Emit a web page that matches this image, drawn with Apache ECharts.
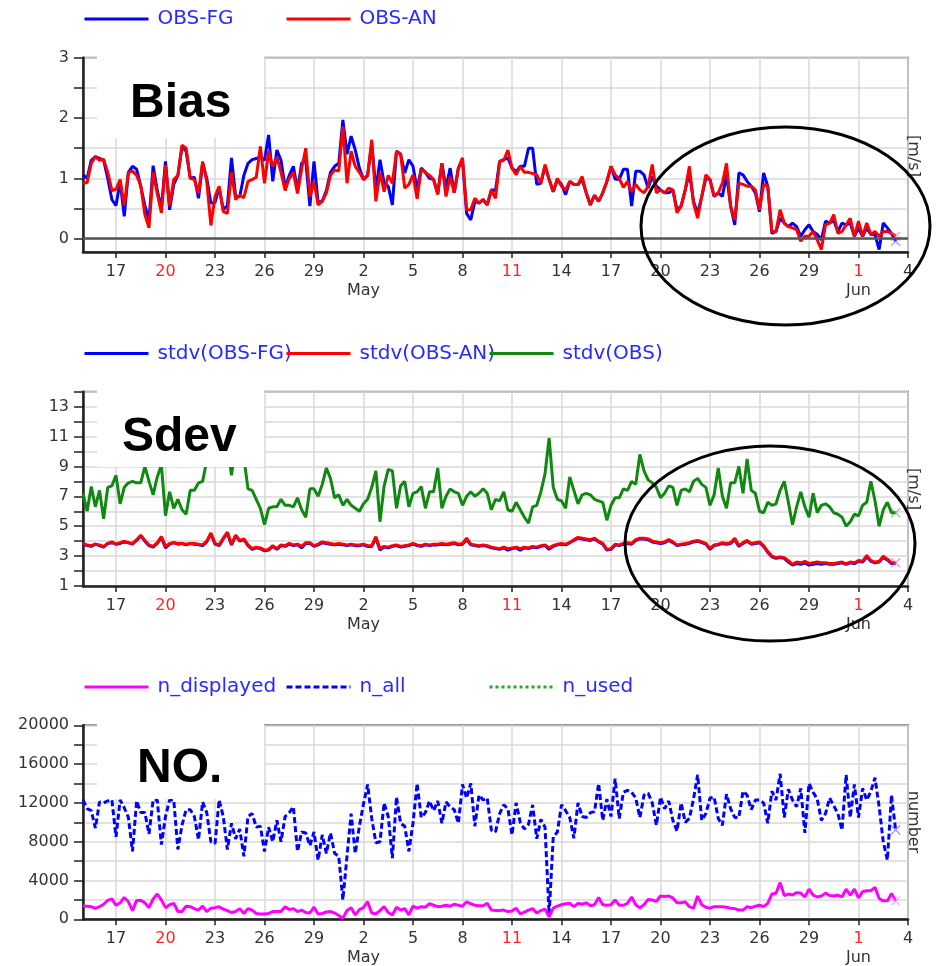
<!DOCTYPE html>
<html>
<head>
<meta charset="utf-8">
<script src="https://cdn.jsdelivr.net/npm/echarts@6/dist/echarts.min.js"></script>
<style>
  html, body { margin: 0; padding: 0; background: #fff; }
  #chart { width: 938px; height: 966px; }
</style>
</head>
<body>
<div id="chart"></div>
<script>
// 6-hourly wind monitoring statistics, starting 15 Apr 2014 00 UTC
const START_UTC = Date.UTC(2014, 3, 15);
const STEP_DAYS = 0.25;
const MONTHS = ['Jan','Feb','Mar','Apr','May','Jun','Jul','Aug','Sep','Oct','Nov','Dec'];
// tick positions in days after the start (17 Apr, 20 Apr, ... 4 Jun)
const DAY_TICKS = [2, 5, 8, 11, 14, 17, 20, 23, 26, 29, 32, 35, 38, 41, 44, 47, 50];

const BIAS_TICKS = [0, 0.5, 1, 1.5, 2, 2.5, 3];
const BIAS_LABELS = [0, 1, 2, 3];

// mean departures [m/s]
const biasFG = [
  1.06, 1.00, 1.30, 1.36, 1.33, 1.30, 1.00, 0.65, 0.55, 0.95,
  0.37, 1.10, 1.20, 1.15, 0.87, 0.55, 0.31, 1.21, 0.80, 0.50,
  1.28, 0.48, 0.90, 1.05, 1.52, 1.45, 1.00, 1.02, 0.67, 1.25,
  1.00, 0.59, 0.60, 0.85, 0.48, 0.55, 1.34, 0.70, 0.70, 1.05,
  1.25, 1.31, 1.33, 1.35, 1.30, 1.72, 0.95, 1.47, 1.30, 0.85,
  1.05, 1.20, 0.80, 1.25, 1.30, 0.54, 1.28, 0.60, 0.62, 0.80,
  1.10, 1.20, 1.25, 1.97, 1.40, 1.70, 1.47, 1.17, 0.98, 1.05,
  1.58, 0.80, 1.31, 0.92, 0.87, 0.56, 1.45, 1.40, 1.09, 1.31,
  1.20, 0.81, 1.17, 1.10, 1.00, 0.98, 0.75, 1.25, 0.84, 1.17,
  0.76, 1.17, 1.30, 0.42, 0.31, 0.62, 0.59, 0.65, 0.56, 0.81,
  0.80, 1.28, 1.31, 1.34, 1.17, 1.11, 1.20, 1.20, 1.50, 1.50,
  0.90, 0.92, 1.20, 0.98, 0.78, 0.98, 0.90, 0.73, 0.95, 0.90,
  0.90, 0.98, 0.76, 0.56, 0.72, 0.62, 0.76, 0.95, 1.20, 0.99,
  0.98, 1.15, 1.15, 0.54, 1.12, 1.12, 1.06, 0.84, 1.03, 0.87,
  0.81, 0.76, 0.76, 0.81, 0.48, 0.54, 0.81, 1.10, 0.62, 0.42,
  0.70, 1.00, 0.98, 0.70, 0.76, 0.70, 1.06, 0.54, 0.23, 1.09,
  1.06, 0.95, 0.87, 0.76, 0.45, 1.09, 0.87, 0.09, 0.12, 0.34,
  0.26, 0.20, 0.26, 0.20, 0.04, 0.15, 0.23, 0.12, 0.07, -0.02,
  0.29, 0.26, 0.30, 0.12, 0.26, 0.23, 0.26, 0.04, 0.18, 0.04,
  0.18, 0.07, 0.07, -0.18, 0.26, 0.18, 0.09, -0.04
];
const biasAN = [
  0.92, 0.93, 1.25, 1.36, 1.30, 1.32, 1.10, 0.80, 0.82, 0.98,
  0.55, 1.10, 1.12, 1.05, 0.88, 0.40, 0.18, 1.10, 0.75, 0.43,
  1.22, 0.55, 0.98, 1.05, 1.55, 1.50, 1.00, 0.98, 0.75, 1.28,
  0.95, 0.22, 0.70, 0.87, 0.45, 0.42, 1.10, 0.65, 0.72, 0.68,
  0.95, 0.98, 1.02, 1.53, 0.92, 1.45, 1.20, 1.35, 1.10, 0.80,
  1.00, 1.10, 0.75, 1.15, 1.50, 0.70, 0.95, 0.56, 0.62, 0.76,
  1.05, 1.14, 1.12, 1.86, 0.92, 1.45, 1.20, 1.10, 0.98, 1.05,
  1.64, 0.62, 1.10, 0.78, 1.05, 0.92, 1.45, 1.40, 0.84, 0.90,
  1.06, 0.66, 1.15, 1.10, 1.05, 0.98, 0.73, 1.25, 0.70, 1.03,
  0.76, 1.17, 1.34, 0.48, 0.48, 0.67, 0.59, 0.65, 0.56, 0.81,
  0.67, 1.28, 1.30, 1.47, 1.17, 1.06, 1.20, 1.10, 1.10, 1.08,
  1.06, 0.92, 1.23, 0.98, 0.78, 1.00, 0.87, 0.81, 0.95, 0.90,
  0.90, 1.03, 0.76, 0.56, 0.72, 0.62, 0.76, 0.95, 1.20, 1.06,
  1.00, 0.85, 0.95, 0.78, 0.90, 0.81, 0.76, 0.87, 1.23, 0.76,
  0.81, 0.76, 0.84, 0.81, 0.43, 0.54, 0.81, 1.20, 0.59, 0.34,
  0.70, 1.06, 0.98, 0.70, 0.76, 0.92, 1.25, 0.54, 0.31, 0.92,
  0.90, 0.87, 0.87, 0.81, 0.48, 0.90, 0.87, 0.12, 0.12, 0.48,
  0.26, 0.20, 0.18, 0.15, -0.04, 0.04, 0.04, 0.12, -0.02, -0.18,
  0.23, 0.26, 0.40, 0.09, 0.12, 0.23, 0.34, 0.04, 0.29, 0.04,
  0.26, 0.07, 0.12, 0.04, 0.12, 0.12, 0.09, 0.04
];

// standard deviations [m/s]
const stdvFG = [
  3.80, 3.70, 3.65, 3.80, 3.70, 3.60, 3.85, 3.90, 3.80, 3.85,
  3.95, 3.90, 3.80, 4.05, 4.35, 4.00, 3.70, 3.60, 3.85, 4.25,
  3.55, 3.80, 3.90, 3.80, 3.85, 3.75, 3.85, 3.80, 3.75, 3.70,
  3.95, 4.50, 3.80, 3.70, 4.15, 4.55, 3.75, 4.35, 4.00, 4.10,
  3.70, 3.45, 3.55, 3.50, 3.35, 3.40, 3.65, 3.45, 3.70, 3.65,
  3.80, 3.70, 3.75, 3.55, 3.85, 3.85, 3.65, 3.75, 3.90, 3.85,
  3.80, 3.75, 3.80, 3.75, 3.70, 3.75, 3.70, 3.70, 3.75, 3.65,
  3.65, 4.20, 3.40, 3.60, 3.55, 3.65, 3.70, 3.60, 3.65, 3.70,
  3.80, 3.70, 3.65, 3.75, 3.70, 3.75, 3.75, 3.80, 3.75, 3.80,
  3.85, 3.75, 3.80, 4.10, 3.75, 3.70, 3.65, 3.70, 3.65, 3.55,
  3.50, 3.45, 3.55, 3.40, 3.50, 3.55, 3.40, 3.55, 3.50, 3.60,
  3.55, 3.65, 3.70, 3.45, 3.65, 3.75, 3.80, 3.75, 3.90, 4.05,
  4.20, 4.15, 4.10, 4.05, 4.15, 3.95, 3.80, 3.40, 3.45, 3.75,
  3.70, 3.80, 3.85, 3.80, 4.05, 4.15, 4.15, 4.10, 3.95, 3.90,
  3.85, 3.90, 4.05, 3.90, 3.70, 3.75, 3.80, 3.85, 3.95, 4.00,
  3.90, 3.80, 3.45, 3.70, 3.75, 3.85, 3.80, 3.85, 4.10, 3.65,
  3.85, 4.00, 3.80, 3.85, 3.90, 3.65, 3.25, 2.95, 2.85, 2.90,
  2.85, 2.60, 2.40, 2.50, 2.45, 2.55, 2.40, 2.45, 2.50, 2.45,
  2.50, 2.45, 2.45, 2.50, 2.55, 2.45, 2.55, 2.50, 2.65, 2.60,
  2.95, 2.65, 2.55, 2.60, 2.90, 2.75, 2.50, 2.50
];
const stdvAN = [
  3.85, 3.75, 3.70, 3.80, 3.75, 3.65, 3.85, 3.95, 3.80, 3.90,
  4.00, 3.90, 3.85, 4.10, 4.40, 4.05, 3.75, 3.65, 3.90, 4.30,
  3.65, 3.85, 3.90, 3.85, 3.85, 3.80, 3.85, 3.85, 3.80, 3.75,
  4.00, 4.55, 3.85, 3.75, 4.20, 4.60, 3.80, 4.40, 4.05, 4.15,
  3.75, 3.50, 3.60, 3.55, 3.40, 3.45, 3.70, 3.50, 3.75, 3.70,
  3.85, 3.75, 3.80, 3.65, 3.90, 3.90, 3.70, 3.80, 3.95, 3.90,
  3.85, 3.80, 3.85, 3.80, 3.75, 3.80, 3.75, 3.75, 3.80, 3.70,
  3.70, 4.30, 3.50, 3.65, 3.60, 3.70, 3.75, 3.65, 3.70, 3.75,
  3.85, 3.75, 3.70, 3.80, 3.75, 3.80, 3.80, 3.85, 3.80, 3.85,
  3.90, 3.80, 3.85, 4.20, 3.80, 3.75, 3.70, 3.75, 3.70, 3.60,
  3.55, 3.50, 3.60, 3.50, 3.55, 3.60, 3.50, 3.60, 3.55, 3.65,
  3.60, 3.70, 3.75, 3.55, 3.70, 3.80, 3.85, 3.80, 3.90, 4.10,
  4.25, 4.20, 4.15, 4.10, 4.20, 4.00, 3.85, 3.45, 3.50, 3.80,
  3.75, 3.85, 3.90, 3.85, 4.10, 4.20, 4.20, 4.15, 4.00, 3.95,
  3.90, 3.95, 4.10, 3.95, 3.75, 3.80, 3.85, 3.90, 4.00, 4.05,
  3.95, 3.85, 3.50, 3.75, 3.80, 3.90, 3.85, 3.90, 4.20, 3.70,
  3.90, 4.05, 3.85, 3.90, 3.95, 3.70, 3.30, 3.00, 2.90, 2.95,
  2.90, 2.70, 2.45, 2.60, 2.55, 2.65, 2.50, 2.55, 2.60, 2.55,
  2.55, 2.50, 2.50, 2.55, 2.60, 2.50, 2.60, 2.55, 2.70, 2.65,
  3.05, 2.70, 2.60, 2.65, 3.00, 2.80, 2.55, 2.55
];
const stdvOBS = [
  7.2, 6.0, 7.65, 6.3, 7.4, 5.5, 7.6, 7.7, 8.4, 6.5,
  7.6, 7.9, 8.0, 7.9, 7.9, 9.0, 8.0, 7.1, 8.3, 9.1,
  5.7, 7.3, 6.2, 6.8, 6.1, 5.8, 7.4, 7.4, 7.9, 8.0,
  9.4, 10.6, 11.0, 10.2, 11.4, 10.4, 8.4, 10.5, 11.2, 9.6,
  7.5, 7.4, 6.8, 6.2, 5.1, 6.2, 6.3, 6.3, 6.8, 6.4,
  6.4, 6.3, 6.9, 6.1, 5.6, 7.5, 7.5, 7.0, 7.8, 8.9,
  8.2, 6.9, 7.1, 6.4, 6.8, 6.4, 6.2, 6.0, 6.5, 6.8,
  7.6, 8.7, 5.3, 7.7, 8.8, 8.7, 6.2, 7.7, 8.0, 6.3,
  7.2, 7.3, 7.65, 6.2, 7.3, 7.3, 8.9, 6.2, 7.0, 7.5,
  7.3, 7.2, 6.4, 7.0, 7.3, 7.0, 7.2, 7.5, 7.2, 6.1,
  6.8, 6.7, 7.3, 6.1, 6.0, 6.6, 6.1, 5.6, 5.2, 6.3,
  6.4, 7.3, 8.5, 10.9, 7.6, 6.8, 6.7, 6.2, 8.3, 7.4,
  6.5, 7.1, 7.2, 7.1, 6.8, 6.7, 6.6, 5.4, 6.4, 6.9,
  6.9, 7.5, 7.4, 8.0, 7.8, 9.8, 8.7, 8.1, 7.9, 7.6,
  6.9, 7.2, 7.7, 7.6, 6.4, 7.4, 7.5, 7.3, 8.0, 8.2,
  7.8, 7.6, 6.4, 7.1, 8.9, 7.0, 6.2, 7.9, 7.9, 9.0,
  7.2, 9.5, 7.4, 7.2, 6.0, 5.9, 6.6, 6.4, 6.5, 7.4,
  8.0, 6.6, 5.1, 6.3, 7.3, 6.3, 5.6, 7.2, 5.9, 6.4,
  6.5, 6.3, 5.9, 5.8, 5.6, 5.0, 5.3, 5.8, 5.7, 6.4,
  6.6, 8.0, 6.7, 5.0, 6.1, 6.6, 5.9, 5.9
];

// observation counts
const nDisplayed = [
  1370, 1340, 1300, 1130, 1300, 1550, 1950, 2100, 1450, 1700,
  2250, 1800, 900, 1950, 1950, 1700, 1200, 2100, 2600, 2000,
  1200, 1500, 1650, 800, 800, 1350, 1300, 1100, 950, 1350,
  800, 1150, 1200, 1300, 1050, 900, 700, 800, 1100, 600,
  1100, 950, 600, 550, 550, 600, 800, 800, 800, 1300,
  1000, 1100, 800, 950, 700, 650, 1250, 550, 600, 750,
  800, 650, 400, 100, 900, 1200, 450, 1000, 1200, 1820,
  650, 550, 900, 1300, 700, 450, 1250, 950, 1100, 450,
  1350, 1150, 1300, 1250, 1600, 1450, 1300, 1350, 1450, 1350,
  1550, 1450, 1350, 1800, 1600, 1450, 1400, 1400, 1650, 950,
  900, 900, 950, 800, 850, 1150, 550, 750, 950, 1100,
  650, 900, 1050, 250, 1150, 1350, 1500, 1600, 1650, 1300,
  1650, 1550, 1700, 1400, 1500, 2250, 1500, 1450, 1500, 2000,
  1450, 1450, 1650, 2300, 1500, 1200, 1500, 2050, 2000, 1850,
  2400, 2350, 2400, 2200, 1700, 1700, 1800, 1300, 1150, 2400,
  1500, 1250, 1150, 1300, 1300, 1300, 1250, 1150, 1100, 950,
  950, 1300, 1200, 1350, 1450, 1300, 1650, 2600, 2680, 3780,
  2450, 2600, 2500, 2750, 2700, 2300, 3100, 2500, 2300, 2400,
  2700, 2450, 2400, 2500, 2300, 3100, 2500, 3100, 2200, 2850,
  2950, 2950, 3300, 2150, 1900, 1900, 2650, 1900
];
const nAll = [
  12300, 11400, 11200, 9400, 12100, 12000, 12200, 12300, 8500, 12300,
  11500, 10500, 7000, 12200, 11000, 11000, 8800, 12300, 12300, 7700,
  10600, 12300, 12300, 7200, 9700, 11300, 11300, 10600, 8200, 12100,
  11000, 8000, 7800, 12300, 10600, 7200, 9900, 8300, 9300, 6500,
  10600, 10900, 9500, 9600, 7000, 9500, 8000, 10200, 8000, 10600,
  11000, 11600, 7000, 9000, 8900, 7600, 9000, 6100, 8700, 6800,
  8900, 6800, 6500, 2000, 6500, 10900, 6800, 9600, 11900, 13900,
  10400, 7900, 8000, 12000, 10600, 6300, 12600, 9900, 9600, 7000,
  9900, 14000, 10500, 11000, 12200, 11200, 12200, 9900, 12100, 11600,
  11300, 9900, 13900, 12500, 14000, 9600, 12800, 12300, 12500, 9200,
  9000, 10900, 11800, 11400, 8700, 12000, 10000, 9300, 9800, 11800,
  8300, 10300, 9500, 500, 8500, 9000, 11800, 11200, 10500, 8350,
  12000, 10600, 10500, 11000, 11100, 14000, 10200, 12400, 10600, 14500,
  10400, 13100, 13300, 13100, 12500, 10500, 12800, 13000, 12000, 9700,
  12600, 11400, 12200, 10200, 9100, 12000, 10000, 10400, 12400, 14900,
  10200, 10900, 12500, 12600, 10400, 9700, 12900, 11400, 10500, 10500,
  13200, 12800, 11300, 12300, 12300, 12000, 9900, 13200, 12300, 15000,
  10500, 13400, 12300, 11600, 13500, 8900, 14000, 13100, 12400, 10200,
  10900, 12500, 11700, 10900, 9200, 14900, 10500, 13900, 10500, 13500,
  12300, 13200, 14600, 11600, 8000, 6100, 12800, 9200
];
const nUsed = [];

const CROSS = 'path://M1,0 L5,4 L9,0 L10,1 L6,5 L10,9 L9,10 L5,6 L1,10 L0,9 L4,5 L0,1 Z';
const FONT = 'DejaVu Sans';
const AXIS_DARK = '#222';
const GRID_GREY = '#d9d9d9';
const LINE_W = 3;

function toPoints(values, endColor) {
  const pts = values.map((v, i) => [i * STEP_DAYS, v]);
  if (endColor && pts.length) {
    const k = pts.length - 1;
    pts[k] = { value: pts[k], symbol: CROSS, symbolSize: 10, itemStyle: { color: endColor } };
  }
  return pts;
}

function dayLabel(d) {
  const dt = new Date(START_UTC + d * 86400000);
  const day = dt.getUTCDate();
  let txt = dt.getUTCDay() === 0 ? '{sun|' + day + '}' : '{d|' + day + '}';
  if (day <= 3) txt += '\n{d|' + MONTHS[dt.getUTCMonth()] + '}';
  return txt;
}

const panels = [
  { top: 57.7, height: 194.3 },
  { top: 391.7, height: 194.3 },
  { top: 725.3, height: 194 }
];

const grids = panels.map(p => ({
  left: 83, right: 30, top: p.top, height: p.height,
  show: true, borderColor: '#777', borderWidth: 2, backgroundColor: 'transparent',
  containLabel: false, outerBoundsMode: 'none'
}));

const xAxes = panels.map((p, gi) => ({
  type: 'value', gridIndex: gi, min: 0, max: 50,
  axisLine: { show: true, onZero: false, lineStyle: { color: AXIS_DARK, width: 2.5 } },
  axisTick: { show: true, customValues: DAY_TICKS, length: 6, lineStyle: { color: AXIS_DARK, width: 1.5 } },
  splitLine: { show: true, lineStyle: { color: GRID_GREY, width: 1.5 } },
  axisLabel: {
    customValues: DAY_TICKS, margin: 10, formatter: dayLabel, fontFamily: FONT,
    fontSize: 16, color: '#333', lineHeight: 19,
    rich: {
      d: { fontFamily: FONT, fontSize: 16, color: '#333', lineHeight: 19 },
      sun: { fontFamily: FONT, fontSize: 16, color: '#ff2424', lineHeight: 19 }
    }
  }
}));

const yCommon = {
  axisLine: { show: true, onZero: false, lineStyle: { color: AXIS_DARK, width: 2.5 } },
  splitLine: { show: true, lineStyle: { color: GRID_GREY, width: 1.5 } },
  axisTick: { show: true, length: 9, lineStyle: { color: AXIS_DARK, width: 1.5 } }
};
const yLabel = { fontFamily: FONT, fontSize: 16, color: '#333', margin: 14 };

const yAxes = [
  Object.assign({}, yCommon, {
    type: 'value', gridIndex: 0, min: -0.22, max: 3,
    axisTick: Object.assign({}, yCommon.axisTick, { customValues: BIAS_TICKS }),
    axisLabel: Object.assign({}, yLabel, { customValues: BIAS_LABELS })
  }),
  Object.assign({}, yCommon, {
    type: 'value', gridIndex: 1, min: 1, max: 14, interval: 1,
    axisLabel: Object.assign({}, yLabel, { formatter: v => (v % 2 === 1 ? String(v) : '') })
  }),
  Object.assign({}, yCommon, {
    type: 'value', gridIndex: 2, min: 0, max: 20000, interval: 2000,
    axisLabel: Object.assign({}, yLabel, { formatter: v => (v % 4000 === 0 ? String(v) : '') })
  })
];

function line(name, values, color, gi, opts) {
  return Object.assign({
    name, type: 'line', xAxisIndex: gi, yAxisIndex: gi,
    data: toPoints(values, opts && opts.end),
    symbol: 'none', showSymbol: true, smooth: false,
    lineStyle: { color, width: LINE_W }, itemStyle: { color },
    emphasis: { disabled: true }, silent: true
  }, opts && opts.extra);
}

const series = [
  line('OBS-FG', biasFG, '#0000ff', 0, {
    end: 'rgba(90,90,255,0.55)',
    extra: {
      markLine: {
        silent: true, symbol: ['none', 'none'], label: { show: false },
        lineStyle: { color: '#555', width: 2.5, type: 'solid' },
        data: [{ yAxis: 0 }]
      }
    }
  }),
  line('OBS-AN', biasAN, '#ff0000', 0, { end: 'rgba(255,110,110,0.6)' }),
  line('stdv(OBS-FG)', stdvFG, '#0000ff', 1),
  line('stdv(OBS-AN)', stdvAN, '#ff0000', 1, { end: 'rgba(220,80,200,0.6)' }),
  line('stdv(OBS)', stdvOBS, '#118811', 1, { end: 'rgba(80,170,80,0.6)' }),
  line('n_displayed', nDisplayed, '#ff00ff', 2, { end: 'rgba(255,120,255,0.6)' }),
  line('n_all', nAll, '#0000ff', 2, {
    end: 'rgba(90,90,255,0.6)',
    extra: { lineStyle: { color: '#0000ff', width: LINE_W, type: [6, 3] }, z: 1 }
  }),
  line('n_used', nUsed, '#22aa22', 2, {
    extra: { lineStyle: { color: '#22aa22', width: 2, type: 'dotted' } }
  })
];

// one legend entry per slot so the entries sit in fixed columns
const LEGEND_COLUMNS = [83, 285, 488];
function legendRow(top, names) {
  return names.map((name, k) => ({
    data: [name], left: LEGEND_COLUMNS[k], top, orient: 'horizontal', padding: 0,
    itemWidth: 64, itemHeight: 22, itemGap: 0, selectedMode: false,
    itemStyle: { color: 'rgba(0,0,0,0)', borderWidth: 0, opacity: 0 },
    lineStyle: { width: 3 },
    textStyle: { fontFamily: FONT, fontSize: 20, color: '#2a2aff', padding: [0, 0, 0, 4] }
  }));
}

const graphics = [
  // title boxes
  { type: 'rect', z: 100, shape: { x: 97, y: 52, width: 167, height: 86 }, style: { fill: '#fff' } },
  { type: 'rect', z: 100, shape: { x: 97, y: 389, width: 167, height: 78 }, style: { fill: '#fff' } },
  { type: 'rect', z: 100, shape: { x: 97, y: 723, width: 167, height: 76 }, style: { fill: '#fff' } },
  { type: 'text', z: 101, x: 130, y: 104, style: { text: 'Bias', font: 'bold 48px "Liberation Sans"', fill: '#000', verticalAlign: 'middle' } },
  { type: 'text', z: 101, x: 122, y: 438, style: { text: 'Sdev', font: 'bold 48px "Liberation Sans"', fill: '#000', verticalAlign: 'middle' } },
  { type: 'text', z: 101, x: 137, y: 769, style: { text: 'NO.', font: 'bold 48px "Liberation Sans"', fill: '#000', verticalAlign: 'middle' } },
  // unit labels on the right
  { type: 'text', z: 101, x: 913, y: 156, rotation: -Math.PI / 2, style: { text: '[m/s]', font: '16px "DejaVu Sans"', fill: '#333', align: 'center', verticalAlign: 'middle' } },
  { type: 'text', z: 101, x: 913, y: 489, rotation: -Math.PI / 2, style: { text: '[m/s]', font: '16px "DejaVu Sans"', fill: '#333', align: 'center', verticalAlign: 'middle' } },
  { type: 'text', z: 101, x: 913, y: 822, rotation: -Math.PI / 2, style: { text: 'number', font: '16px "DejaVu Sans"', fill: '#333', align: 'center', verticalAlign: 'middle' } },
  // highlight rings
  { type: 'ellipse', z: 102, shape: { cx: 785.5, cy: 226, rx: 144.5, ry: 99 }, style: { fill: 'none', stroke: '#000', lineWidth: 3 } },
  { type: 'ellipse', z: 102, shape: { cx: 770, cy: 543.5, rx: 145, ry: 97.5 }, style: { fill: 'none', stroke: '#000', lineWidth: 3 } }
];

const chart = echarts.init(document.getElementById('chart'), null, { renderer: 'canvas' });
chart.setOption({
  animation: false,
  backgroundColor: '#fff',
  grid: grids,
  xAxis: xAxes,
  yAxis: yAxes,
  legend: [].concat(
    legendRow(9, ['OBS-FG', 'OBS-AN']),
    legendRow(343.5, ['stdv(OBS-FG)', 'stdv(OBS-AN)', 'stdv(OBS)']),
    legendRow(677, ['n_displayed', 'n_all', 'n_used'])
  ),
  series,
  graphic: graphics
});
</script>
</body>
</html>
